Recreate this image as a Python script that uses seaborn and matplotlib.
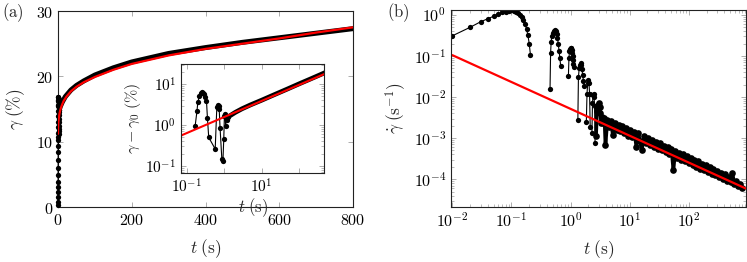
import numpy as np
import pandas as pd
import matplotlib
matplotlib.use('Agg')
import matplotlib.pyplot as plt
import seaborn as sns

# ---- panel (a): strain vs time ----
# early oscillation, all squeezed at t ~ 0
t_col = [0, 0.05, 0.1, 0.15, 0.2, 0.25, 0.3, 0.35, 0.4, 0.45,
         0.5, 0.55, 0.6, 0.65, 0.7, 0.75, 0.8, 0.85, 0.9, 0.95,
         1.0, 1.1, 1.2, 1.3, 1.4, 1.5, 1.6, 1.7, 1.8, 1.9,
         2.0, 2.1, 2.2, 2.3, 2.4, 2.5, 2.6, 2.8, 3.0]
g_col = [0.3, 0.8, 1.6, 2.3, 3.1, 3.9, 4.9, 5.9, 7.2, 8.4,
         9.4, 10.2, 10.7, 11.4, 12.2, 13.0, 13.9, 14.7, 15.5, 16.2,
         16.8, 16.9, 16.4, 15.6, 14.6, 13.5, 12.4, 11.6, 11.2, 11.9,
         13.0, 14.1, 15.1, 15.9, 16.5, 16.3, 15.6, 14.9, 14.8]
# creep data (dense markers -> thick black line)
t_a = [3, 5, 8, 12, 20, 35, 50, 70, 100, 150, 200, 300, 400, 500, 600, 700, 800]
g_a = [14.8, 15.2, 15.6, 16.1, 16.9, 17.9, 18.6, 19.3, 20.2, 21.3, 22.2, 23.5,
       24.4, 25.2, 25.9, 26.6, 27.3]
# power-law fit
t_a_fit = [0.05, 0.3, 1, 2, 4, 7, 10, 15, 23, 35, 50, 70, 100, 150, 200, 300,
           400, 500, 600, 700, 800]
g_a_fit = [11.2, 12.0, 12.9, 13.5, 14.3, 15.0, 15.5, 16.2, 16.9, 17.7, 18.4,
           19.1, 19.9, 21.0, 21.9, 23.2, 24.2, 25.0, 25.8, 26.7, 27.5]

# inset: gamma - gamma0 on log-log
t_in = [0.17, 0.19, 0.20, 0.22, 0.24, 0.26, 0.28, 0.30, 0.32, 0.34, 0.36, 0.39,
        0.58, 0.64, 0.68, 0.71, 0.74, 0.78, 0.87, 0.93, 0.98, 1.02, 1.07, 1.10,
        1.17, 1.22, 1.30]
v_in = [0.96, 2.2, 3.6, 5.2, 6.0, 6.3, 6.1, 5.7, 4.9, 3.9, 1.5, 0.5,
        0.26, 2.7, 3.1, 2.9, 2.5, 0.87, 0.15, 0.13, 0.46, 1.7, 1.85, 0.95,
        1.7, 1.3, 1.55]
t_in_line = [1.3, 2, 3, 5, 10, 20, 50, 100, 200, 454, 800]
v_in_line = [1.6, 2.05, 2.5, 3.1, 4.05, 5.35, 7.7, 10.2, 13.4, 18.6, 23.8]
t_in_fit = [0.07, 460]
v_in_fit = [0.55, 17.6]

# ---- panel (b): strain rate ----
t_b1 = [0.01, 0.02, 0.03, 0.04, 0.05, 0.06, 0.07, 0.08, 0.09, 0.10, 0.11,
        0.12, 0.13, 0.14, 0.15, 0.16, 0.17, 0.18, 0.19, 0.20, 0.21]
r_b1 = [0.31, 0.50, 0.68, 0.81, 0.93, 1.05, 1.15, 1.20, 1.26, 1.29, 1.26,
        1.20, 1.12, 1.0, 0.87, 0.74, 0.60, 0.46, 0.32, 0.20, 0.105]
t_b2 = [0.45, 0.46, 0.47, 0.48, 0.50, 0.52, 0.54, 0.56, 0.58, 0.60, 0.62,
        0.64, 0.66, 0.68]
r_b2 = [0.016, 0.12, 0.22, 0.30, 0.37, 0.41, 0.42, 0.40, 0.35, 0.28, 0.20,
        0.13, 0.09, 0.058]
t_b3 = [0.92, 0.94, 0.96, 0.98, 1.00, 1.02, 1.04, 1.06, 1.08, 1.10, 1.12, 1.14]
r_b3 = [0.032, 0.09, 0.13, 0.15, 0.16, 0.155, 0.14, 0.12, 0.10, 0.08, 0.065,
        0.055]
t_b4 = [1.33, 1.36, 1.40, 1.44, 1.48, 1.52, 1.56, 1.60, 1.65, 1.72]
r_b4 = [0.0028, 0.03, 0.05, 0.062, 0.066, 0.06, 0.048, 0.035, 0.025, 0.019]
t_b5 = [1.85, 1.9, 1.95, 2.0, 2.05, 2.1, 2.15]
r_b5 = [0.0025, 0.012, 0.022, 0.026, 0.022, 0.012, 0.0019]
t_b6 = [2.3, 2.35, 2.4, 2.45, 2.5, 2.55, 2.6]
r_b6 = [0.0013, 0.007, 0.011, 0.012, 0.010, 0.006, 0.00075]
# long-time noisy band
t_b7 = [2.7, 2.8, 2.9, 3.0, 3.1, 3.2, 3.3, 3.45, 3.6, 3.75, 3.9, 4.2, 4.5,
        4.8, 5.2, 5.6, 6.0, 6.5, 7.0, 7.5, 8.1, 8.7, 9.4, 10, 11, 12, 13, 14,
        15, 16, 17.5, 19, 20.5, 22, 24, 26, 28, 30, 32.5, 35, 38, 41, 44, 47,
        51, 55, 59, 64, 69, 74, 80, 86, 93, 100, 108, 116, 125, 135, 145, 156,
        168, 181, 195, 210, 226, 243, 262, 282, 304, 327, 352, 379, 408, 440,
        473, 510, 549, 591, 636, 685, 737, 790]
r_b7 = [1.1e-3, 4.5e-3, 6.5e-3, 7.0e-3, 5.8e-3, 4.0e-3, 2.3e-3, 3.2e-3, 2.4e-3,
        3.1e-3, 6.8e-4, 2.8e-3, 1.9e-3, 2.6e-3, 1.2e-3, 2.3e-3, 1.6e-3, 2.1e-3,
        1.45e-3, 1.95e-3, 1.3e-3, 1.75e-3, 1.15e-3, 1.6e-3, 1.05e-3, 1.4e-3,
        6.2e-4, 1.3e-3, 8.6e-4, 5.1e-4, 1.1e-3, 7.4e-4, 1.0e-3, 6.8e-4, 9.0e-4,
        6.0e-4, 8.2e-4, 5.5e-4, 7.4e-4, 5.0e-4, 6.6e-4, 4.5e-4, 6.0e-4, 4.1e-4,
        5.4e-4, 1.66e-4, 4.9e-4, 3.3e-4, 4.4e-4, 3.0e-4, 4.0e-4, 2.7e-4, 3.6e-4,
        2.5e-4, 3.3e-4, 2.2e-4, 3.0e-4, 2.0e-4, 2.7e-4, 1.8e-4, 2.4e-4, 1.65e-4,
        2.2e-4, 1.5e-4, 2.0e-4, 1.35e-4, 1.8e-4, 1.25e-4, 1.6e-4, 1.1e-4,
        1.45e-4, 1.0e-4, 1.3e-4, 9.0e-5, 1.15e-4, 8.3e-5, 1.38e-4, 7.5e-5,
        9.0e-5, 6.8e-5, 7.8e-5, 6.0e-5]
t_b_fit = [0.01, 930]
r_b_fit = [0.105, 5.9e-5]

segs = [(t_b1, r_b1), (t_b2, r_b2), (t_b3, r_b3), (t_b4, r_b4),
        (t_b5, r_b5), (t_b6, r_b6)]
df_b = pd.concat([pd.DataFrame({'t': t, 'r': r, 'seg': i})
                  for i, (t, r) in enumerate(segs)], ignore_index=True)

sns.set_theme(style='ticks')
plt.rcParams.update({
    'font.family': ['DejaVu Serif'],
    'mathtext.fontset': 'cm',
    'font.size': 11.5,
    'xtick.labelsize': 11.5, 'ytick.labelsize': 11.5,
    'xtick.direction': 'in', 'ytick.direction': 'in',
    'xtick.top': True, 'ytick.right': True,
    'xtick.color': '#a0a0a0', 'ytick.color': '#a0a0a0',
    'xtick.labelcolor': 'black', 'ytick.labelcolor': 'black',
    'xtick.major.size': 3.5, 'ytick.major.size': 3.5,
    'xtick.minor.size': 2, 'ytick.minor.size': 2,
    'xtick.major.width': 0.6, 'ytick.major.width': 0.6,
    'xtick.minor.width': 0.5, 'ytick.minor.width': 0.5,
    'axes.edgecolor': '#222222', 'axes.linewidth': 0.8,
})

fig = plt.figure(figsize=(7.47, 2.62), dpi=100)
ax_a = fig.add_axes([58 / 747, 55 / 262, 295 / 747, 196 / 262])
ax_b = fig.add_axes([451 / 747, 55 / 262, 295 / 747, 197 / 262])
ax_in = fig.add_axes([181 / 747, 89 / 262, 143 / 747, 109 / 262])

mk = dict(marker='o', markersize=3.8, markeredgewidth=0)

# (a)
sns.lineplot(x=t_col, y=g_col, ax=ax_a, color='black', lw=0.8, sort=False,
             estimator=None, clip_on=False, zorder=3, **mk)
sns.lineplot(x=t_a, y=g_a, ax=ax_a, color='black', lw=3.6, sort=False,
             estimator=None, zorder=3)
sns.lineplot(x=t_a_fit, y=g_a_fit, ax=ax_a, color='red', lw=1.6, sort=False,
             estimator=None, zorder=4)
ax_a.set_xlim(0, 800)
ax_a.set_ylim(0, 30)
ax_a.set_xticks([0, 200, 400, 600, 800],
                ['$0$', '$200$', '$400$', '$600$', '$800$'])
ax_a.set_yticks([0, 10, 20, 30], ['$0$', '$10$', '$20$', '$30$'])
ax_a.set_xlabel(r'$t\;(\mathrm{s})$', fontsize=12.5, labelpad=6)
ax_a.set_ylabel(r'$\gamma\;(\%)$', fontsize=12.5, labelpad=6)

# inset
ax_in.set_xscale('log')
ax_in.set_yscale('log')
sns.lineplot(x=t_in_line, y=v_in_line, ax=ax_in, color='black', lw=3.4,
             sort=False, estimator=None)
sns.lineplot(x=t_in, y=v_in, ax=ax_in, color='black', lw=0.8, sort=False,
             estimator=None, **mk)
sns.lineplot(x=t_in_fit, y=v_in_fit, ax=ax_in, color='red', lw=1.5,
             sort=False, estimator=None)
ax_in.set_xlim(0.0714, 454)
ax_in.set_ylim(0.0675, 31)
ax_in.set_xticks([0.1, 1, 10, 100], [r'$10^{-1}$', '', r'$10^{1}$', ''])
ax_in.set_yticks([0.1, 1, 10], [r'$10^{-1}$', r'$10^{0}$', r'$10^{1}$'])
ax_in.tick_params(labelsize=11)
ax_in.set_xlabel(r'$t\;(\mathrm{s})$', fontsize=12, labelpad=0)
ax_in.set_ylabel(r'$\gamma-\gamma_0\;(\%)$', fontsize=11.5, labelpad=2)

# (b)
ax_b.set_xscale('log')
ax_b.set_yscale('log')
sns.lineplot(data=df_b, x='t', y='r', units='seg', estimator=None, ax=ax_b,
             color='black', lw=0.8, sort=False, **mk)
sns.lineplot(x=t_b7, y=r_b7, ax=ax_b, color='black', lw=2.6, sort=False,
             estimator=None, marker='o', markersize=4.8, markeredgewidth=0)
sns.lineplot(x=t_b_fit, y=r_b_fit, ax=ax_b, color='red', lw=1.6, sort=False,
             estimator=None)
ax_b.set_xlim(0.0095, 930)
ax_b.set_ylim(2.1e-5, 1.32)
ax_b.set_xticks([0.01, 0.1, 1, 10, 100],
                [r'$10^{-2}$', r'$10^{-1}$', r'$10^{0}$', r'$10^{1}$', r'$10^{2}$'])
ax_b.set_yticks([1e-4, 1e-3, 1e-2, 1e-1, 1],
                [r'$10^{-4}$', r'$10^{-3}$', r'$10^{-2}$', r'$10^{-1}$', r'$10^{0}$'])
ax_b.set_xlabel(r'$t\;(\mathrm{s})$', fontsize=12.5, labelpad=6)
ax_b.set_ylabel(r'$\dot{\gamma}\;(\mathrm{s}^{-1})$', fontsize=12.5, labelpad=4)

fig.text(0.003, 1 - 13 / 262, r'$\mathrm{(a)}$', fontsize=12, va='center')
fig.text(387 / 747, 1 - 13 / 262, r'$\mathrm{(b)}$', fontsize=12, va='center')

fig.savefig('out.png', dpi=100)
